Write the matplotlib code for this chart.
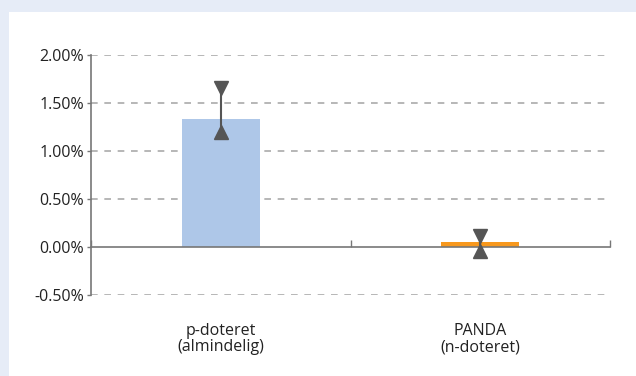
import matplotlib.pyplot as plt
from matplotlib.patches import Rectangle
from matplotlib.ticker import FuncFormatter
import matplotlib.transforms as mtrans

plt.rcParams['font.family'] = ['Open Sans', 'DejaVu Sans']

categories = ['p-doteret\n(almindelig)', 'PANDA\n(n-doteret)']
values = [1.333, 0.052]
err_low = [1.198, -0.042]
err_high = [1.661, 0.115]
bar_colors = ['#aec7e8', '#f7981d']
yticks = [-0.5, 0.0, 0.5, 1.0, 1.5, 2.0]

fig = plt.figure(figsize=(6.36, 3.76), dpi=100)
fig.patch.set_facecolor('#e6ecf7')
# white panel behind the axes
fig.patches.append(Rectangle((9/636, 0), 1, 1 - 12/376, transform=fig.transFigure,
                             facecolor='white', edgecolor='none', zorder=-10))

ax = fig.add_axes([91/636, 1 - 295/376, (610 - 91)/636, (295 - 55)/376])
ax.set_facecolor('none')

x = range(len(categories))
ax.bar(x, values, width=0.3, color=bar_colors, zorder=2)

# error bars with triangle ends
for xi, lo, hi in zip(x, err_low, err_high):
    ax.plot([xi, xi], [lo, hi], color='#555555', lw=1.5, zorder=3)
    ax.plot(xi, hi, marker='v', color='#555555', ms=10.5, zorder=4)
    ax.plot(xi, lo, marker='^', color='#555555', ms=10.5, zorder=4)

ax.set_xlim(-0.5, 1.5)
ax.set_ylim(-0.5, 2.0)
ax.set_yticks(yticks)
ax.yaxis.set_major_formatter(FuncFormatter(lambda v, p: '%.2f%%' % v))

for v in yticks:
    if v != 0:
        ax.axhline(v, color='#aaaaaa', lw=1.2, ls=(0, (4, 4)), zorder=1)

for s in ['top', 'right']:
    ax.spines[s].set_visible(False)
ax.spines['left'].set_color('#777777')
ax.spines['left'].set_linewidth(1.2)
ax.spines['bottom'].set_position(('data', 0))
ax.spines['bottom'].set_color('#777777')
ax.spines['bottom'].set_linewidth(1.2)

ax.set_xticks([-0.5, 0.5, 1.5])
ax.set_xticklabels([])
ax.tick_params(axis='x', direction='in', length=5, color='#777777', width=1)
ax.tick_params(axis='y', direction='out', length=3, color='#777777', width=1,
               labelsize=11.5, labelcolor='#222222', pad=2)

trans = mtrans.blended_transform_factory(ax.transData, ax.transAxes)
for xi, name in zip(x, categories):
    ax.text(xi, -0.115, name, transform=trans, ha='center', va='top',
            fontsize=11.5, color='#222222', linespacing=1.05)

fig.savefig('out.png', dpi=100, facecolor=fig.get_facecolor())
